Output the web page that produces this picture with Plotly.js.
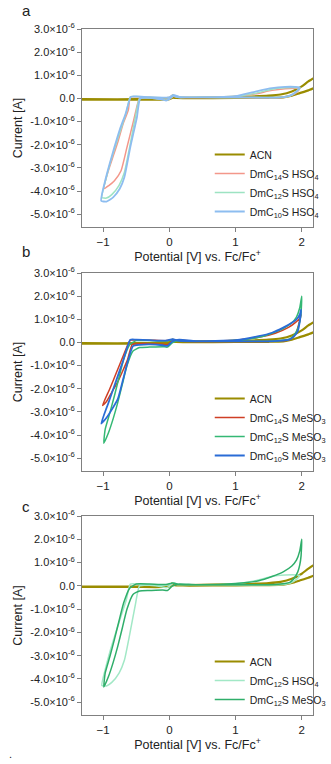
<!DOCTYPE html>
<html>
<head>
<meta charset="utf-8">
<script src="https://cdn.plot.ly/plotly-3.0.1.min.js"></script>
<style>
  html, body { margin: 0; padding: 0; background: #fff; }
  #chart { width: 331px; height: 764px; }
</style>
</head>
<body>
<div id="chart"></div>
<script>
// potentials in V vs Fc/Fc+, currents in µA (converted to A below)
const acnV = [-1.4, -0.5, -0.1, 0.0, 0.05, 0.1, 0.3, 1.0, 1.5, 1.72, 1.85, 1.97, 2.1, 2.25, 2.25, 2.1, 2.0, 1.85, 1.68, 1.5, 1.0, 0.3, 0.1, 0.05, 0.0, -0.5, -1.4];
const acnI = [-0.05, -0.05, -0.05, -0.03, 0.03, 0.02, 0.01, 0.02, 0.03, 0.05, 0.12, 0.23, 0.35, 0.55, 0.98, 0.74, 0.52, 0.3, 0.17, 0.12, 0.07, 0.03, 0.04, 0.12, 0.02, -0.03, -0.03];

// panel a: HSO4 salts
const c14HsoV = [-0.45, -0.3, -0.1, -0.05, 0.0, 0.06, 0.12, 0.3, 0.7, 1.0, 1.3, 1.55, 1.75, 1.9, 1.97, 1.92, 1.82, 1.7, 1.4, 1.0, 0.5, 0.15, 0.06, 0.0, -0.05, -0.3, -0.5, -0.59, -0.62, -0.7, -0.77, -0.85, -0.92, -0.99, -0.92, -0.83, -0.73, -0.64, -0.54, -0.48, -0.45];
const c14HsoI = [0.0, 0.02, -0.04, -0.07, -0.02, 0.1, 0.05, 0.04, 0.05, 0.08, 0.2, 0.35, 0.42, 0.44, 0.43, 0.25, 0.1, 0.04, 0.03, 0.04, 0.04, 0.06, 0.12, 0.04, 0.03, 0.05, 0.07, 0.06, -0.5, -1.1, -1.8, -2.5, -3.1, -3.9, -3.77, -3.55, -3.12, -2.1, -0.95, -0.23, 0.0];

const c12HsoV = [-0.45, -0.3, -0.1, -0.05, 0.0, 0.06, 0.12, 0.3, 0.7, 1.0, 1.3, 1.55, 1.75, 1.9, 1.97, 1.92, 1.82, 1.7, 1.4, 1.0, 0.5, 0.15, 0.06, 0.0, -0.05, -0.3, -0.5, -0.59, -0.65, -0.73, -0.82, -0.9, -0.96, -1.02, -0.95, -0.87, -0.76, -0.68, -0.6, -0.51, -0.45];
const c12HsoI = [0.0, 0.02, -0.05, -0.08, -0.02, 0.11, 0.05, 0.05, 0.05, 0.09, 0.22, 0.4, 0.46, 0.47, 0.45, 0.28, 0.11, 0.05, 0.04, 0.04, 0.05, 0.06, 0.13, 0.04, 0.03, 0.05, 0.08, 0.07, -0.6, -1.3, -2.1, -2.85, -3.5, -4.28, -4.3, -4.15, -3.75, -3.2, -2.1, -0.75, 0.0];

const c10HsoV = [-0.44, -0.3, -0.1, -0.05, 0.0, 0.06, 0.12, 0.3, 0.7, 1.0, 1.3, 1.55, 1.75, 1.9, 1.97, 1.92, 1.82, 1.7, 1.4, 1.0, 0.5, 0.15, 0.06, 0.0, -0.05, -0.3, -0.5, -0.58, -0.66, -0.75, -0.83, -0.9, -0.97, -1.03, -0.95, -0.85, -0.75, -0.68, -0.59, -0.49, -0.44];
const c10HsoI = [0.0, 0.03, -0.05, -0.09, -0.02, 0.12, 0.06, 0.05, 0.06, 0.1, 0.3, 0.45, 0.5, 0.5, 0.48, 0.3, 0.12, 0.05, 0.04, 0.05, 0.05, 0.07, 0.15, 0.05, 0.04, 0.06, 0.09, 0.08, -0.65, -1.35, -2.1, -2.8, -3.55, -4.42, -4.45, -4.27, -3.9, -3.4, -2.1, -0.81, 0.0];

// panel b: MeSO3 salts
const c14MesV = [-0.45, -0.3, -0.1, -0.03, 0.05, 0.15, 0.4, 1.0, 1.35, 1.6, 1.8, 1.92, 1.97, 1.99, 1.96, 1.92, 1.86, 1.8, 1.6, 1.0, 0.4, 0.15, 0.05, -0.05, -0.3, -0.5, -0.59, -0.7, -0.8, -0.9, -1.01, -0.95, -0.87, -0.78, -0.7, -0.63, -0.56, -0.45];
const c14MesI = [-0.05, -0.05, -0.08, -0.1, 0.05, 0.1, 0.06, 0.1, 0.22, 0.4, 0.65, 0.9, 1.05, 1.2, 0.85, 0.45, 0.22, 0.1, 0.05, 0.04, 0.04, 0.06, 0.12, 0.08, 0.1, 0.1, 0.1, -0.6, -1.3, -2.0, -2.72, -2.55, -2.15, -1.7, -1.2, -0.73, -0.08, -0.05];

const c12MesV = [-0.45, -0.3, -0.1, -0.03, 0.05, 0.15, 0.4, 1.0, 1.35, 1.55, 1.72, 1.85, 1.92, 1.97, 2.0, 1.99, 1.97, 1.94, 1.88, 1.82, 1.6, 1.0, 0.4, 0.15, 0.05, -0.05, -0.3, -0.5, -0.6, -0.69, -0.76, -0.83, -0.9, -0.97, -0.99, -0.92, -0.85, -0.78, -0.71, -0.64, -0.55, -0.45];
const c12MesI = [-0.22, -0.2, -0.18, -0.2, 0.0, 0.08, 0.05, 0.1, 0.22, 0.4, 0.6, 0.85, 1.1, 1.5, 2.0, 1.3, 0.9, 0.6, 0.3, 0.15, 0.06, 0.05, 0.05, 0.06, 0.12, 0.06, 0.08, 0.08, -0.1, -0.73, -1.5, -2.3, -3.05, -3.75, -4.35, -3.9, -3.3, -2.6, -1.8, -1.0, -0.37, -0.22];

const c10MesV = [-0.45, -0.3, -0.1, -0.03, 0.05, 0.15, 0.4, 1.0, 1.35, 1.55, 1.72, 1.85, 1.92, 1.97, 1.99, 1.97, 1.94, 1.88, 1.82, 1.6, 1.0, 0.4, 0.15, 0.05, -0.05, -0.3, -0.5, -0.59, -0.7, -0.81, -0.92, -1.03, -0.95, -0.87, -0.78, -0.7, -0.62, -0.55, -0.45];
const c10MesI = [-0.1, -0.08, -0.12, -0.15, 0.05, 0.12, 0.06, 0.1, 0.27, 0.42, 0.64, 0.85, 1.0, 1.2, 1.42, 0.9, 0.49, 0.25, 0.13, 0.06, 0.05, 0.05, 0.07, 0.14, 0.08, 0.1, 0.12, 0.12, -0.8, -1.7, -2.6, -3.5, -3.25, -2.9, -2.45, -1.6, -0.73, -0.16, -0.1];

const yTickVals = [3, 2, 1, 0, -1, -2, -3, -4, -5];
const yTickText = ['3.0×10<sup>-6</sup>', '2.0×10<sup>-6</sup>', '1.0×10<sup>-6</sup>', '0.0',
  '-1.0×10<sup>-6</sup>', '-2.0×10<sup>-6</sup>', '-3.0×10<sup>-6</sup>', '-4.0×10<sup>-6</sup>', '-5.0×10<sup>-6</sup>'];
const xTickVals = [-1, 0, 1, 2];

const toA = arr => arr.map(v => v * 1e-6);
const acnColor = '#9a8c00';

function cv(name, V, I, color, n, legend, width) {
  return {
    x: V, y: toA(I), name: name, mode: 'lines', type: 'scatter',
    xaxis: n === 1 ? 'x' : 'x' + n, yaxis: n === 1 ? 'y' : 'y' + n,
    legend: legend,
    line: { color: color, width: width || 1.5, shape: 'spline', smoothing: 0.5 }
  };
}

const traces = [
  cv('ACN', acnV, acnI, acnColor, 1, 'legend', 2.2),
  cv('DmC<sub>14</sub>S HSO<sub>4</sub>', c14HsoV, c14HsoI, '#f3978a', 1, 'legend'),
  cv('DmC<sub>12</sub>S HSO<sub>4</sub>', c12HsoV, c12HsoI, '#9de3c2', 1, 'legend'),
  cv('DmC<sub>10</sub>S HSO<sub>4</sub>', c10HsoV, c10HsoI, '#8dbdf0', 1, 'legend', 1.8),

  cv('ACN', acnV, acnI, acnColor, 2, 'legend2', 2.2),
  cv('DmC<sub>14</sub>S MeSO<sub>3</sub>', c14MesV, c14MesI, '#cf3f25', 2, 'legend2'),
  cv('DmC<sub>12</sub>S MeSO<sub>3</sub>', c12MesV, c12MesI, '#34b874', 2, 'legend2'),
  cv('DmC<sub>10</sub>S MeSO<sub>3</sub>', c10MesV, c10MesI, '#2a6cd6', 2, 'legend2', 1.8),

  cv('ACN', acnV, acnI, acnColor, 3, 'legend3', 2.2),
  cv('DmC<sub>12</sub>S HSO<sub>4</sub>', c12HsoV, c12HsoI, '#a2e8c6', 3, 'legend3'),
  cv('DmC<sub>12</sub>S MeSO<sub>3</sub>', c12MesV, c12MesI, '#2fae6a', 3, 'legend3')
];

const H = 764;
const py = p => (H - p) / H;

function xAxis(anchor) {
  return {
    anchor: anchor, domain: [0, 1], range: [-1.32, 2.17],
    tickvals: xTickVals, ticks: 'outside', ticklen: 4, tickcolor: '#808080',
    showline: true, linecolor: '#808080', linewidth: 1, mirror: true,
    showgrid: false, zeroline: false,
    tickfont: { size: 11.5, color: '#222' },
    title: { text: 'Potential [V] vs. Fc/Fc<sup>+</sup>', font: { size: 12.5, color: '#222' }, standoff: 5 }
  };
}

function yAxis(anchor, top, bottom) {
  return {
    anchor: anchor, domain: [py(bottom), py(top)], range: [-5.55e-6, 3.0e-6],
    tickvals: toA(yTickVals), ticktext: yTickText,
    ticks: 'outside', ticklen: 4, tickcolor: '#808080',
    showline: true, linecolor: '#808080', linewidth: 1, mirror: true,
    showgrid: false, zeroline: false,
    tickfont: { size: 11, color: '#222' },
    title: { text: 'Current [A]', font: { size: 12.5, color: '#222' }, standoff: 4 }
  };
}

function legendBox(bottom) {
  return {
    x: 0.553, xanchor: 'left', y: py(bottom), yanchor: 'bottom',
    bgcolor: 'rgba(0,0,0,0)', borderwidth: 0,
    font: { family: 'Liberation Sans, Arial, sans-serif', size: 10.5, color: '#222' },
    itemwidth: 30
  };
}

const layout = {
  width: 331, height: 764,
  margin: { l: 82, r: 6, t: 0, b: 0 },
  paper_bgcolor: '#fff', plot_bgcolor: '#fff',
  font: { family: 'Liberation Sans, Arial, sans-serif', color: '#222' },
  showlegend: true,
  xaxis: xAxis('y'),
  yaxis: yAxis('x', 29, 227),
  xaxis2: xAxis('y2'),
  yaxis2: yAxis('x2', 273, 471),
  xaxis3: xAxis('y3'),
  yaxis3: yAxis('x3', 516, 715),
  legend: legendBox(226),
  legend2: legendBox(470),
  legend3: legendBox(714),
  annotations: [
    { text: 'a', x: (17 - 82) / 243, y: py(0), xref: 'paper', yref: 'paper', xanchor: 'left', yanchor: 'top', showarrow: false, font: { size: 15 } },
    { text: 'b', x: (17 - 82) / 243, y: py(251), xref: 'paper', yref: 'paper', xanchor: 'left', yanchor: 'middle', showarrow: false, font: { size: 15 } },
    { text: 'c', x: (17 - 82) / 243, y: py(506), xref: 'paper', yref: 'paper', xanchor: 'left', yanchor: 'middle', showarrow: false, font: { size: 15 } },
    { text: '.', x: (3 - 82) / 243, y: py(754), xref: 'paper', yref: 'paper', xanchor: 'left', yanchor: 'middle', showarrow: false, font: { size: 11 } }
  ]
};

Plotly.newPlot('chart', traces, layout, { staticPlot: true, displayModeBar: false });
</script>
</body>
</html>
